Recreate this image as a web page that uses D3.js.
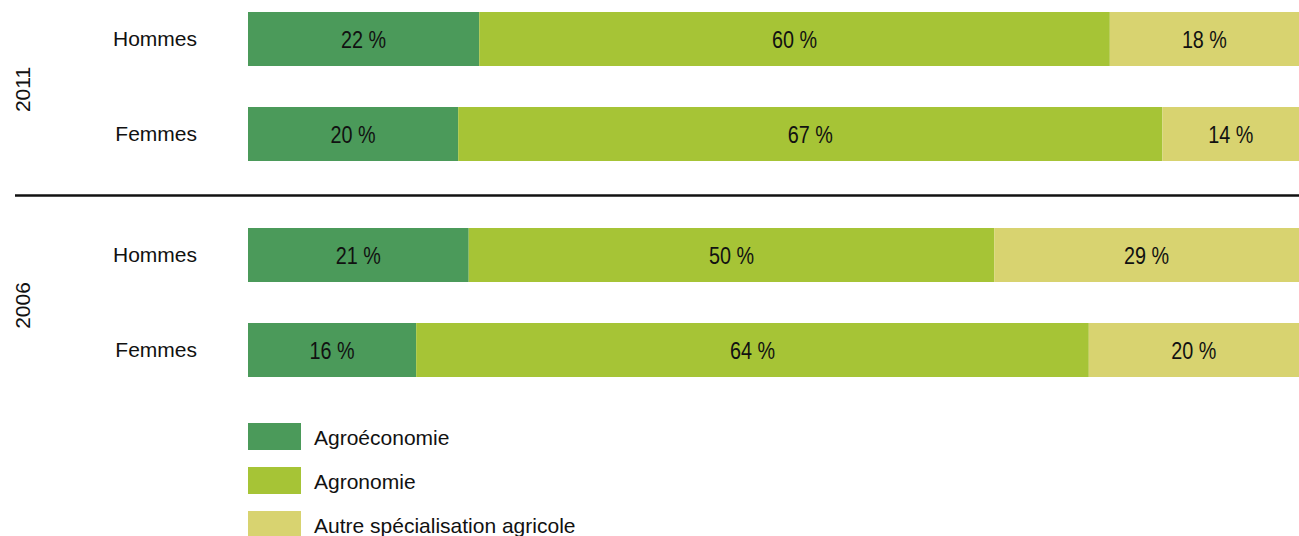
<!DOCTYPE html>
<html>
<head>
<meta charset="utf-8">
<script src="https://cdn.jsdelivr.net/npm/d3@7"></script>
<style>
  html, body { margin: 0; padding: 0; background: #fff; }
  svg { display: block; }
  text { font-family: "Liberation Sans", Arial, Helvetica, sans-serif; fill: #111; }
</style>
</head>
<body>
<svg id="chart" width="1299" height="536"></svg>
<script>
// Répartition par spécialisation, selon le sexe et l'année
const years = ["2011", "2006"];
const sexes = ["Hommes", "Femmes"];
const series = ["Agroéconomie", "Agronomie", "Autre spécialisation agricole"];
const colors = ["#4b9a5a", "#a6c436", "#d8d370"];

const agroeconomie = [22, 20, 21, 16];
const agronomie = [60, 67, 50, 64];
const autre = [18, 14, 29, 20];

const rows = [];
years.forEach((y, i) => sexes.forEach((s, j) => {
  const k = i * 2 + j;
  rows.push({ year: y, sex: s, key: y + "-" + s,
    Agroéconomie: agroeconomie[k], Agronomie: agronomie[k],
    "Autre spécialisation agricole": autre[k] });
}));

const svg = d3.select("#chart");
const W = 1299;

const x = d3.scaleLinear().domain([0, 100]).range([248, W]);

// Vertical placement: two groups separated by a rule
const yBand = d3.scaleOrdinal()
  .domain(rows.map(r => r.key))
  .range([12, 107, 228, 323]);
const barH = 54;

const stack = d3.stack().keys(series)(rows);

const g = svg.append("g");
stack.forEach((layer, li) => {
  g.selectAll(null).data(layer).join("rect")
    .attr("x", d => x(d[0]))
    .attr("y", d => yBand(d.data.key))
    .attr("width", d => x(d[1]) - x(d[0]))
    .attr("height", barH)
    .attr("fill", colors[li]);

  // Condensed value labels centred in each segment
  g.selectAll(null).data(layer).join("text")
    .attr("transform", d => `translate(${(x(d[0]) + Math.min(x(d[1]), W)) / 2},${yBand(d.data.key) + barH / 2 + 1}) scale(0.86,1)`)
    .attr("dy", "0.36em")
    .attr("text-anchor", "middle")
    .attr("font-size", 23)
    .text(d => (d[1] - d[0]) + " %");
});

// Sex labels
svg.selectAll(".sex").data(rows).join("text")
  .attr("class", "sex")
  .attr("x", 197)
  .attr("y", d => yBand(d.key) + barH / 2 - 1)
  .attr("dy", "0.36em")
  .attr("text-anchor", "end")
  .attr("font-size", 21)
  .text(d => d.sex);

// Year labels (rotated)
years.forEach(y => {
  const y0 = yBand(y + "-Hommes") + barH / 2;
  const y1 = yBand(y + "-Femmes") + barH / 2;
  svg.append("text")
    .attr("transform", `translate(22,${(y0 + y1) / 2 + 3}) rotate(-90)`)
    .attr("dy", "0.36em")
    .attr("text-anchor", "middle")
    .attr("font-size", 21)
    .text(y);
});

// Separator between years
svg.append("line")
  .attr("x1", 15).attr("x2", W)
  .attr("y1", 195.5).attr("y2", 195.5)
  .attr("stroke", "#111").attr("stroke-width", 2.5);

// Legend
const legend = svg.append("g");
series.forEach((s, i) => {
  const ly = 423 + i * 44;
  legend.append("rect")
    .attr("x", 248).attr("y", ly)
    .attr("width", 53).attr("height", 27)
    .attr("fill", colors[i]);
  legend.append("text")
    .attr("x", 314).attr("y", ly + 14)
    .attr("dy", "0.36em")
    .attr("font-size", 21)
    .text(s);
});
</script>
</body>
</html>
